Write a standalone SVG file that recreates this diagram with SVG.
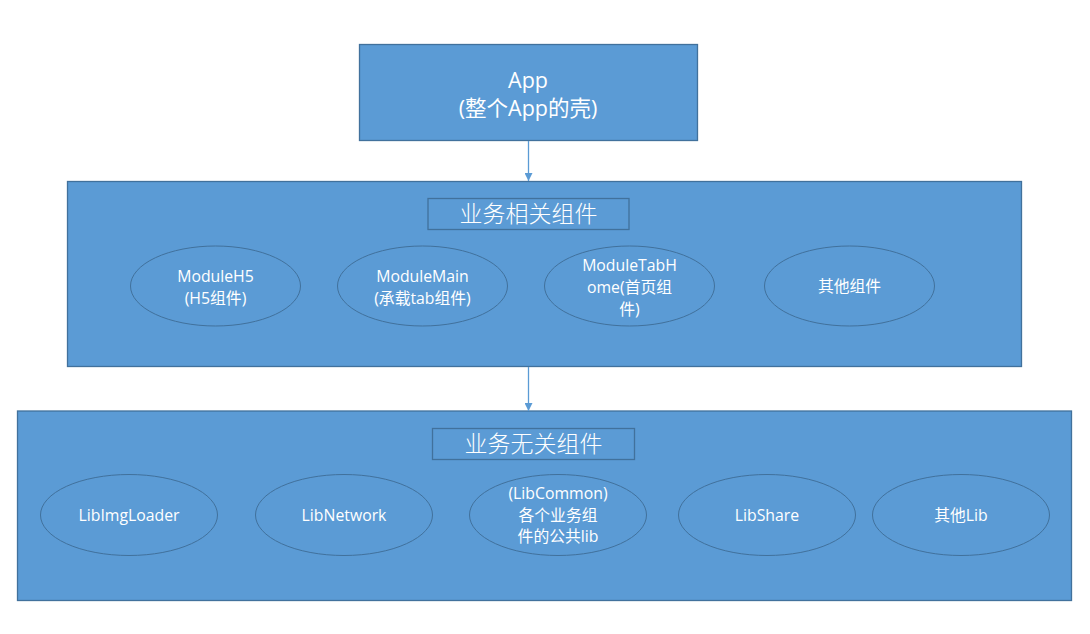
<svg xmlns="http://www.w3.org/2000/svg" width="1090" height="634" viewBox="0 0 1090 634">
<defs>
<style>
.box{fill:#5B9BD5;stroke:#41719C;stroke-width:1.3}
.tbox{fill:none;stroke:#41719C;stroke-width:1.3}
.ell{fill:#5B9BD5;stroke:#41719C;stroke-width:1}
.conn{stroke:#5B9BD5;stroke-width:1.3;fill:none}
text{fill:#FFFFFF;font-family:"Open Sans","Noto Sans CJK SC",sans-serif;text-anchor:middle}
.big{font-size:21.5px}
.title{font-size:23px;font-weight:300;font-family:"Noto Sans CJK SC","Open Sans",sans-serif}
.sm{font-size:15.8px}
</style>
<marker id="arr" viewBox="0 0 10 10" refX="10" refY="5" markerWidth="8" markerHeight="8" markerUnits="userSpaceOnUse" orient="auto">
<path d="M0,0 L10,5 L0,10 Z" fill="#5B9BD5"/>
</marker>
</defs>
<rect width="1090" height="634" fill="#FFFFFF"/>

<g id="app">
<rect class="box" x="359.5" y="44.5" width="338" height="96"/>
<text class="big" x="528" y="88">App</text>
<text class="big" x="528" y="116">(整个App的壳)</text>
</g>

<g id="biz">
<rect class="box" x="67.5" y="181.5" width="954" height="185"/>
<rect class="tbox" x="428" y="198.5" width="201" height="31"/>
<text class="title" x="528.5" y="222">业务相关组件</text>
</g>

<g id="moduleH5">
<ellipse class="ell" cx="215.5" cy="286" rx="85" ry="40"/>
<text class="sm" x="215.5" y="282">ModuleH5</text>
<text class="sm" x="215.5" y="304">(H5组件)</text>
</g>
<g id="moduleMain">
<ellipse class="ell" cx="422.5" cy="286" rx="85" ry="40"/>
<text class="sm" x="422.5" y="282">ModuleMain</text>
<text class="sm" x="422.5" y="304">(承载tab组件)</text>
</g>
<g id="moduleTabHome">
<ellipse class="ell" cx="629.5" cy="286" rx="85" ry="40"/>
<text class="sm" x="629.5" y="271">ModuleTabH</text>
<text class="sm" x="629.5" y="293">ome(首页组</text>
<text class="sm" x="629.5" y="315">件)</text>
</g>
<g id="otherModule">
<ellipse class="ell" cx="849.5" cy="286" rx="85" ry="40"/>
<text class="sm" x="849.5" y="292">其他组件</text>
</g>

<g id="lib">
<rect class="box" x="17.5" y="411" width="1054" height="189.5"/>
<rect class="tbox" x="432.5" y="428.5" width="202" height="31"/>
<text class="title" x="533.5" y="452">业务无关组件</text>
</g>

<g id="libImgLoader">
<ellipse class="ell" cx="129" cy="515" rx="88.5" ry="40.5"/>
<text class="sm" x="129" y="521">LibImgLoader</text>
</g>
<g id="libNetwork">
<ellipse class="ell" cx="344" cy="515" rx="88.5" ry="40.5"/>
<text class="sm" x="344" y="521">LibNetwork</text>
</g>
<g id="libCommon">
<ellipse class="ell" cx="558" cy="515" rx="88.5" ry="40.5"/>
<text class="sm" x="558" y="499">(LibCommon)</text>
<text class="sm" x="558" y="521">各个业务组</text>
<text class="sm" x="558" y="542">件的公共lib</text>
</g>
<g id="libShare">
<ellipse class="ell" cx="767" cy="515" rx="88.5" ry="40.5"/>
<text class="sm" x="767" y="521">LibShare</text>
</g>
<g id="otherLib">
<ellipse class="ell" cx="961" cy="515" rx="88.5" ry="40.5"/>
<text class="sm" x="961" y="521">其他Lib</text>
</g>

<g id="connectors">
<line class="conn" x1="528.5" y1="141" x2="528.5" y2="181" marker-end="url(#arr)"/>
<line class="conn" x1="528.5" y1="367" x2="528.5" y2="411" marker-end="url(#arr)"/>
</g>
</svg>
